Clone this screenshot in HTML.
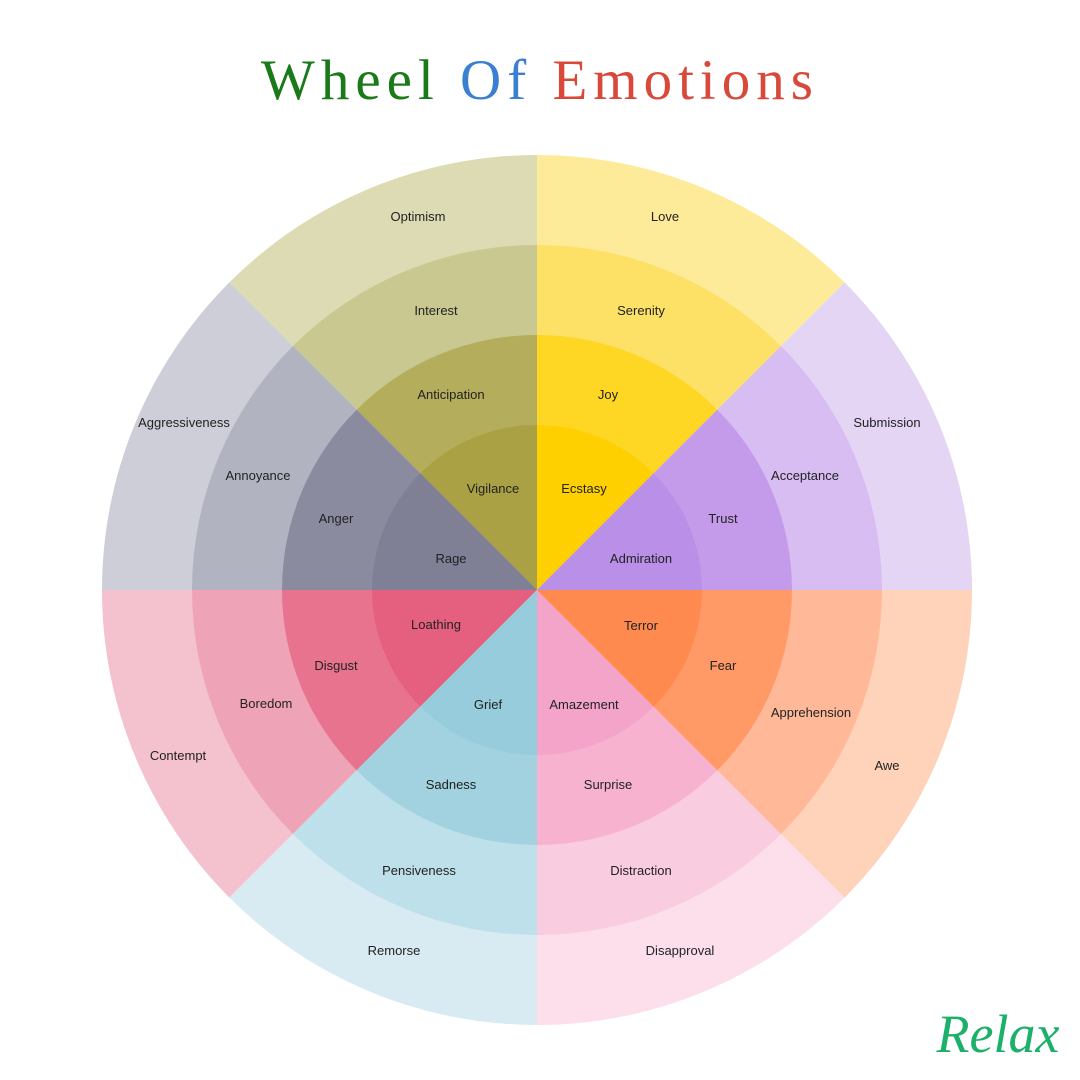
<!DOCTYPE html>
<html><head><meta charset="utf-8"><style>
html,body{margin:0;padding:0;background:#fff;width:1080px;height:1080px;overflow:hidden}
svg{display:block}
.l{font-family:"Liberation Sans",sans-serif;font-size:13px;fill:#222;text-anchor:middle}
</style></head><body>
<svg width="1080" height="1080" viewBox="0 0 1080 1080">
<defs>
<clipPath id="yl"><polygon points="537,590 537,90 1037,90"/></clipPath>
<clipPath id="ol"><polygon points="537,590 537,90 37,90"/></clipPath>
<clipPath id="gr"><polygon points="537,590 37,90 37,590"/></clipPath>
<clipPath id="rd"><polygon points="537,590 37,590 37,1090"/></clipPath>
<clipPath id="bl"><polygon points="537,590 37,1090 537,1090"/></clipPath>
<clipPath id="pk"><polygon points="537,590 537,1090 1037,1090"/></clipPath>
<clipPath id="or"><polygon points="537,590 1037,1090 1037,590"/></clipPath>
<clipPath id="pu"><polygon points="537,590 1037,590 1037,90"/></clipPath>
</defs>
<g clip-path="url(#yl)"><circle cx="537" cy="590" r="435" fill="#FDEB9A"/><circle cx="537" cy="590" r="345" fill="#FDE066"/><circle cx="537" cy="590" r="255" fill="#FDD724"/><circle cx="537" cy="590" r="165" fill="#FFD000"/></g>
<g clip-path="url(#ol)"><circle cx="537" cy="590" r="435" fill="#DCDBB3"/><circle cx="537" cy="590" r="345" fill="#C9C891"/><circle cx="537" cy="590" r="255" fill="#B3AD5C"/><circle cx="537" cy="590" r="165" fill="#A9A144"/></g>
<g clip-path="url(#gr)"><circle cx="537" cy="590" r="435" fill="#CDCED7"/><circle cx="537" cy="590" r="345" fill="#B1B3C0"/><circle cx="537" cy="590" r="255" fill="#8B8B9F"/><circle cx="537" cy="590" r="165" fill="#7F7F96"/></g>
<g clip-path="url(#rd)"><circle cx="537" cy="590" r="435" fill="#F4C1CE"/><circle cx="537" cy="590" r="345" fill="#EFA3B6"/><circle cx="537" cy="590" r="255" fill="#E8738F"/><circle cx="537" cy="590" r="165" fill="#E5607F"/></g>
<g clip-path="url(#bl)"><circle cx="537" cy="590" r="435" fill="#D8EBF2"/><circle cx="537" cy="590" r="345" fill="#BEE0EA"/><circle cx="537" cy="590" r="255" fill="#A2D2E0"/><circle cx="537" cy="590" r="165" fill="#96CCDC"/></g>
<g clip-path="url(#pk)"><circle cx="537" cy="590" r="435" fill="#FCDFEA"/><circle cx="537" cy="590" r="345" fill="#FACCE0"/><circle cx="537" cy="590" r="255" fill="#F7B2D0"/><circle cx="537" cy="590" r="165" fill="#F4A4C8"/></g>
<g clip-path="url(#or)"><circle cx="537" cy="590" r="435" fill="#FFD2BA"/><circle cx="537" cy="590" r="345" fill="#FFB998"/><circle cx="537" cy="590" r="255" fill="#FF9A66"/><circle cx="537" cy="590" r="165" fill="#FF8A50"/></g>
<g clip-path="url(#pu)"><circle cx="537" cy="590" r="435" fill="#E5D5F5"/><circle cx="537" cy="590" r="345" fill="#D7BDF2"/><circle cx="537" cy="590" r="255" fill="#C49BEA"/><circle cx="537" cy="590" r="165" fill="#B98FE8"/></g>

<text x="540" y="99" text-anchor="middle" font-family="'Liberation Serif',serif" font-size="57" letter-spacing="6"><tspan fill="#1A7A1A">Wheel </tspan><tspan fill="#3A7FD0">Of </tspan><tspan fill="#D8493A">Emotions</tspan></text>

<g class="l">
<text class="l" x="418" y="221">Optimism</text>
<text class="l" x="665" y="221">Love</text>
<text class="l" x="436" y="315">Interest</text>
<text class="l" x="641" y="315">Serenity</text>
<text class="l" x="451" y="399">Anticipation</text>
<text class="l" x="608" y="399">Joy</text>
<text class="l" x="493" y="493">Vigilance</text>
<text class="l" x="584" y="493">Ecstasy</text>
<text class="l" x="184" y="427">Aggressiveness</text>
<text class="l" x="258" y="480">Annoyance</text>
<text class="l" x="336" y="523">Anger</text>
<text class="l" x="451" y="563">Rage</text>
<text class="l" x="887" y="427">Submission</text>
<text class="l" x="805" y="480">Acceptance</text>
<text class="l" x="723" y="523">Trust</text>
<text class="l" x="641" y="563">Admiration</text>
<text class="l" x="436" y="629">Loathing</text>
<text class="l" x="336" y="670">Disgust</text>
<text class="l" x="266" y="708">Boredom</text>
<text class="l" x="178" y="760">Contempt</text>
<text class="l" x="641" y="630">Terror</text>
<text class="l" x="723" y="670">Fear</text>
<text class="l" x="811" y="717">Apprehension</text>
<text class="l" x="887" y="770">Awe</text>
<text class="l" x="488" y="709">Grief</text>
<text class="l" x="584" y="709">Amazement</text>
<text class="l" x="451" y="789">Sadness</text>
<text class="l" x="608" y="789">Surprise</text>
<text class="l" x="419" y="875">Pensiveness</text>
<text class="l" x="641" y="875">Distraction</text>
<text class="l" x="394" y="955">Remorse</text>
<text class="l" x="680" y="955">Disapproval</text>
</g>

<text x="998" y="1052" text-anchor="middle" font-family="'Liberation Serif',serif" font-style="italic" font-size="54" fill="#1DB06A">Relax</text>
</svg>
</body></html>
